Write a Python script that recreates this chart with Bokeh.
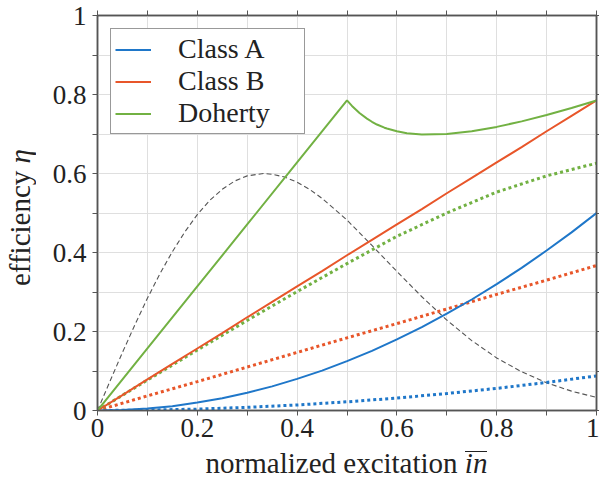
from bokeh.plotting import figure
from bokeh.layouts import row, column
from bokeh.models import (Range1d, LinearAxis, FixedTicker, Legend, LegendItem, Div)
from bokeh.embed import file_html
from bokeh.resources import INLINE

# --- efficiency curves (normalized excitation -> efficiency) ---
x_eff = [0.0, 0.05, 0.1, 0.15, 0.2, 0.25, 0.3, 0.35, 0.4, 0.45, 0.5,
         0.55, 0.6, 0.65, 0.7, 0.75, 0.8, 0.85, 0.9, 0.95, 1.0]
class_a = [0.0, 0.001, 0.005, 0.011, 0.02, 0.031, 0.045, 0.061, 0.08, 0.101, 0.125,
           0.151, 0.18, 0.211, 0.245, 0.281, 0.32, 0.361, 0.405, 0.451, 0.5]
class_b = [0.0, 0.039, 0.079, 0.118, 0.157, 0.196, 0.236, 0.275, 0.314, 0.353, 0.393,
           0.432, 0.471, 0.51, 0.55, 0.589, 0.628, 0.667, 0.707, 0.746, 0.785]

x_doherty = [0.0, 0.1, 0.2, 0.3, 0.4, 0.5, 0.51, 0.525, 0.54, 0.55, 0.56, 0.575, 0.58,
             0.6, 0.62, 0.65, 0.7, 0.75, 0.8, 0.85, 0.9, 0.95, 1.0]
doherty = [0.0, 0.157, 0.314, 0.471, 0.628, 0.785, 0.771, 0.753, 0.739, 0.731, 0.724,
           0.716, 0.714, 0.707, 0.702, 0.699, 0.700, 0.707, 0.718, 0.732, 0.748, 0.766, 0.785]

# --- average efficiency for the modulated signal (dotted) ---
x_avg = [0.0, 0.1, 0.2, 0.3, 0.4, 0.5, 0.6, 0.7, 0.8, 0.9, 1.0]
class_a_avg = [0.0, 0.001, 0.0035, 0.008, 0.014, 0.022, 0.0315, 0.043, 0.056, 0.071, 0.0875]
class_b_avg = [0.0, 0.037, 0.073, 0.110, 0.147, 0.184, 0.220, 0.257, 0.294, 0.330, 0.367]
doherty_avg = [0.0, 0.077, 0.153, 0.228, 0.301, 0.372, 0.441, 0.500, 0.553, 0.594, 0.626]

# --- amplitude distribution of the signal (dashed) ---
x_pdf = [0.0, 0.025, 0.05, 0.075, 0.1, 0.125, 0.15, 0.175, 0.2, 0.225, 0.25, 0.275,
         0.3, 0.333, 0.35, 0.375, 0.4, 0.425, 0.45, 0.475, 0.5,
         0.55, 0.6, 0.65, 0.7, 0.75, 0.8, 0.85, 0.9, 0.95, 1.0]
pdf = [0.0, 0.074, 0.147, 0.217, 0.284, 0.346, 0.402, 0.452, 0.496, 0.532, 0.560, 0.581,
       0.594, 0.600, 0.598, 0.591, 0.578, 0.560, 0.537, 0.510, 0.482,
       0.418, 0.352, 0.288, 0.229, 0.177, 0.133, 0.098, 0.070, 0.049, 0.033]

major_ticks = [0, 0.2, 0.4, 0.6, 0.8, 1]
minor_ticks = [0.1, 0.3, 0.5, 0.7, 0.9]
tick_labels = {0: "0", 0.2: "0.2", 0.4: "0.4", 0.6: "0.6", 0.8: "0.8", 1: "1"}
blank_labels = {t: "" for t in major_ticks}

BLUE = "#1f77c9"
RED = "#e8562a"
GREEN = "#72b143"
FONT = "Liberation Serif"
AXIS = "#555555"
GRID = "#dfdfdf"
INK = "#222222"

YLAB_W = 40      # strip holding the vertical axis title
XLAB_H = 30      # strip holding the horizontal axis title
W, H = 599, 479

p = figure(width=W - YLAB_W, height=H - XLAB_H, output_backend="svg",
           toolbar_location=None,
           x_range=Range1d(0, 1), y_range=Range1d(0, 1),
           min_border_left=97 - YLAB_W, min_border_right=3,
           min_border_top=15, min_border_bottom=39,
           x_axis_location=None, y_axis_location=None)
p.outline_line_color = AXIS
p.outline_line_width = 1.5
p.background_fill_color = "white"
p.border_fill_color = "white"

ticker = FixedTicker(ticks=major_ticks, minor_ticks=minor_ticks)


def make_axis(show_labels):
    ax = LinearAxis(ticker=ticker)
    ax.axis_line_color = AXIS
    ax.axis_line_width = 1.5
    ax.major_tick_line_color = AXIS
    ax.minor_tick_line_color = AXIS
    ax.major_tick_out = 5
    ax.major_tick_in = 0
    ax.minor_tick_out = 5
    ax.minor_tick_in = 0
    if show_labels:
        ax.major_label_overrides = tick_labels
        ax.major_label_text_font = FONT
        ax.major_label_text_font_size = "27px"
        ax.major_label_text_color = INK
    else:
        ax.major_label_overrides = blank_labels
        ax.major_label_text_font_size = "1px"
        ax.major_label_standoff = 0
    return ax


xb = make_axis(True)
xb.major_label_standoff = 3
yl = make_axis(True)
yl.major_label_standoff = 6
xt = make_axis(False)
yr = make_axis(False)
yr.major_tick_out = 3
yr.minor_tick_out = 3
p.add_layout(xb, "below")
p.add_layout(yl, "left")
p.add_layout(xt, "above")
p.add_layout(yr, "right")

p.xgrid.ticker = ticker
p.ygrid.ticker = ticker
p.xgrid.grid_line_color = GRID
p.ygrid.grid_line_color = GRID
p.xgrid.minor_grid_line_color = GRID
p.ygrid.minor_grid_line_color = GRID

# amplitude distribution
p.line(x_pdf, pdf, line_color="#555555", line_width=1.1, line_dash="5 3")

# averaged efficiencies
p.line(x_avg, class_a_avg, line_color=BLUE, line_width=3, line_dash="3 3")
p.line(x_avg, class_b_avg, line_color=RED, line_width=3, line_dash="3 3")
p.line(x_avg, doherty_avg, line_color=GREEN, line_width=3, line_dash="3 3")

# instantaneous efficiencies
ra = p.line(x_eff, class_a, line_color=BLUE, line_width=2)
rb = p.line(x_eff, class_b, line_color=RED, line_width=2)
rd = p.line(x_doherty, doherty, line_color=GREEN, line_width=2)

legend = Legend(items=[LegendItem(label="Class A", renderers=[ra]),
                       LegendItem(label="Class B", renderers=[rb]),
                       LegendItem(label="Doherty", renderers=[rd])],
                location="top_left", margin=13, padding=4, spacing=0,
                glyph_width=36, glyph_height=29, label_height=29,
                label_standoff=27, label_width=122,
                label_text_font=FONT, label_text_font_size="28px",
                label_text_color=INK,
                border_line_color="#333333", border_line_width=1,
                background_fill_color="white", background_fill_alpha=1)
p.add_layout(legend, "center")

# axis titles, set as HTML so that the symbols can be italic / overlined
title_css = f"font-family:'{FONT}';font-size:29px;color:{INK};white-space:nowrap;"
xlab = Div(
    text=(f"<div style=\"margin-left:{97 - YLAB_W}px;width:499px;height:{XLAB_H}px;"
          f"text-align:center;line-height:29px;{title_css}\">normalized excitation "
          "<span style=\"display:inline-block;font-style:italic;line-height:22px;"
          "border-top:1.2px solid #222222;\">in</span></div>"),
    width=W - YLAB_W, height=XLAB_H, margin=0)
ylab = Div(
    text=(f"<div style=\"width:{YLAB_W}px;height:{H - XLAB_H - 14}px;display:flex;"
          "align-items:center;justify-content:center;\">"
          f"<div style=\"writing-mode:vertical-rl;transform:rotate(180deg);"
          f"line-height:29px;{title_css}\">efficiency <i>η</i></div></div>"),
    width=YLAB_W, height=H - XLAB_H, margin=0)

page = row(ylab, column(p, xlab, spacing=0), spacing=0)

open("out.html", "w").write(file_html(page, INLINE))
